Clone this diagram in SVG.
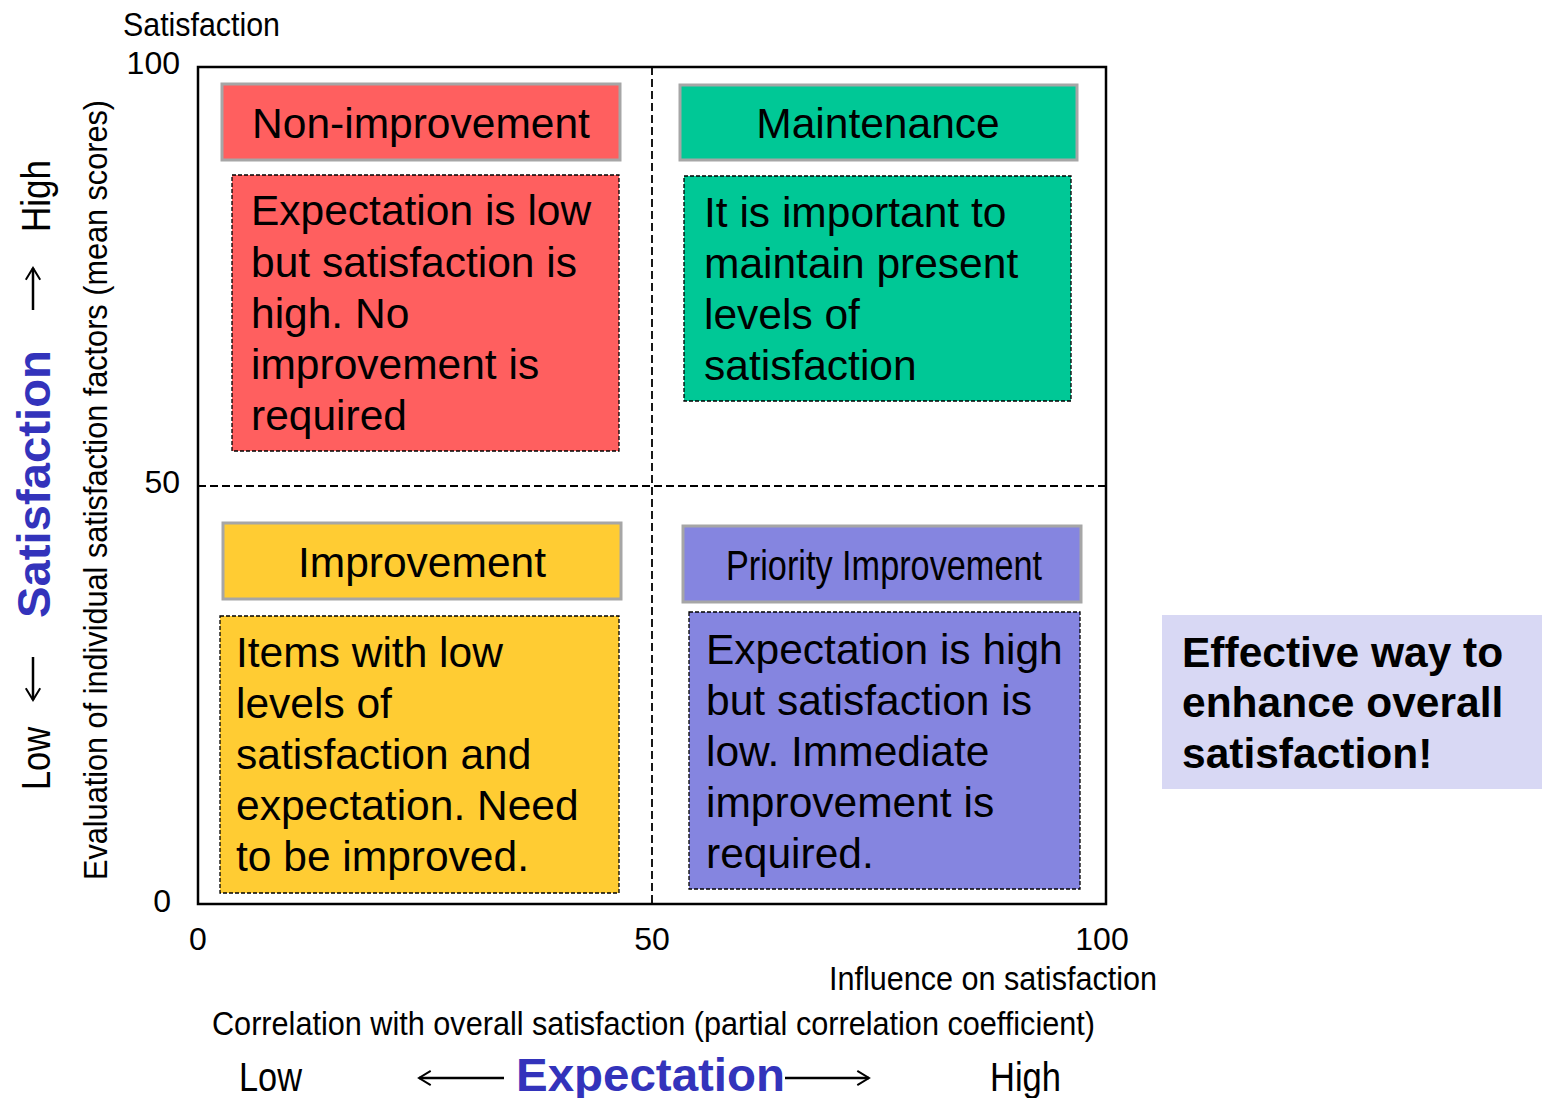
<svg xmlns="http://www.w3.org/2000/svg" width="1542" height="1098" viewBox="0 0 1542 1098">
<defs>
<style>
.t{font-family:"Liberation Sans",Arial,sans-serif;fill:#000}
.box{font-size:42.5px}
.ax{font-size:34px}
.num{font-size:32px}
.lh{font-size:40px}
.blue{font-size:47px;font-weight:bold;fill:#3333BB}
.hdr{stroke:#A6A6A6;stroke-width:3}
.body{stroke:#000;stroke-width:1.3;stroke-dasharray:4 2}
.grid{stroke:#000;stroke-width:1.8;stroke-dasharray:8 4;fill:none}
.arr{stroke:#000;stroke-width:2.5;fill:none;marker-end:url(#ah)}
</style>
<marker id="ah" viewBox="0 0 20 20" refX="18" refY="10" markerWidth="18" markerHeight="18" markerUnits="userSpaceOnUse" orient="auto">
<path d="M5,2 L18,10 L5,18" fill="none" stroke="#000" stroke-width="2.2"/>
</marker>
</defs>
<rect width="1542" height="1098" fill="#fff"/>
<g id="connectors">
<rect x="198" y="67" width="908" height="837" fill="none" stroke="#000" stroke-width="2.5"/>
<line class="grid" x1="652" y1="67" x2="652" y2="904"/>
<line class="grid" x1="198" y1="486" x2="1106" y2="486"/>
<line class="arr" x1="33" y1="310" x2="33" y2="268"/>
<line class="arr" x1="33" y1="657" x2="33" y2="700"/>
<line class="arr" x1="504" y1="1078" x2="419" y2="1078"/>
<line class="arr" x1="785" y1="1078" x2="869" y2="1078"/>
</g>
<g id="non-improvement">
<rect class="hdr" x="222" y="84" width="398" height="76" fill="#FF5F5F"/>
<text class="t box" x="421" y="138" text-anchor="middle">Non-improvement</text>
<rect class="body" x="232" y="175" width="387" height="276" fill="#FF5F5F"/>
<text class="t box" x="251" y="225">Expectation is low</text>
<text class="t box" x="251" y="277">but satisfaction is</text>
<text class="t box" x="251" y="328">high. No</text>
<text class="t box" x="251" y="379">improvement is</text>
<text class="t box" x="251" y="430">required</text>
</g>
<g id="maintenance">
<rect class="hdr" x="680" y="85" width="397" height="75" fill="#00C896"/>
<text class="t box" x="878" y="138" text-anchor="middle">Maintenance</text>
<rect class="body" x="684" y="176" width="387" height="225" fill="#00C896"/>
<text class="t box" x="704" y="227">It is important to</text>
<text class="t box" x="704" y="278">maintain present</text>
<text class="t box" x="704" y="329">levels of</text>
<text class="t box" x="704" y="380">satisfaction</text>
</g>
<g id="improvement">
<rect class="hdr" x="223" y="523" width="398" height="76" fill="#FFCC33"/>
<text class="t box" x="422" y="577" text-anchor="middle">Improvement</text>
<rect class="body" x="220" y="616" width="399" height="277" fill="#FFCC33"/>
<text class="t box" x="236" y="667">Items with low</text>
<text class="t box" x="236" y="718">levels of</text>
<text class="t box" x="236" y="769">satisfaction and</text>
<text class="t box" x="236" y="820">expectation. Need</text>
<text class="t box" x="236" y="871">to be improved.</text>
</g>
<g id="priority-improvement">
<rect class="hdr" x="683" y="526" width="398" height="76" fill="#8585E0"/>
<text class="t box" x="726" y="580" textLength="316" lengthAdjust="spacingAndGlyphs">Priority Improvement</text>
<rect class="body" x="689" y="612" width="391" height="277" fill="#8585E0"/>
<text class="t box" x="706" y="664">Expectation is high</text>
<text class="t box" x="706" y="715">but satisfaction is</text>
<text class="t box" x="706" y="766">low. Immediate</text>
<text class="t box" x="706" y="817">improvement is</text>
<text class="t box" x="706" y="868">required.</text>
</g>
<g id="effective">
<rect x="1162" y="615" width="380" height="174" fill="#D8D8F4"/>
<text class="t box" x="1182" y="667" font-weight="bold">Effective way to</text>
<text class="t box" x="1182" y="717" font-weight="bold">enhance overall</text>
<text class="t box" x="1182" y="768" font-weight="bold">satisfaction!</text>
</g>
<g id="axes-labels">
<text class="t ax" x="123" y="36" textLength="157" lengthAdjust="spacingAndGlyphs">Satisfaction</text>
<text class="t num" x="180" y="74" text-anchor="end">100</text>
<text class="t num" x="180" y="493" text-anchor="end">50</text>
<text class="t num" x="171" y="912" text-anchor="end">0</text>
<text class="t num" x="198" y="950" text-anchor="middle">0</text>
<text class="t num" x="652" y="950" text-anchor="middle">50</text>
<text class="t num" x="1102" y="950" text-anchor="middle">100</text>
<text class="t ax" x="829" y="990" textLength="328" lengthAdjust="spacingAndGlyphs">Influence on satisfaction</text>
<text class="t ax" x="212" y="1035" textLength="883" lengthAdjust="spacingAndGlyphs">Correlation with overall satisfaction (partial correlation coefficient)</text>
<text class="t lh" x="239" y="1091" textLength="63" lengthAdjust="spacingAndGlyphs">Low</text>
<text class="t blue" x="516" y="1091" textLength="269" lengthAdjust="spacingAndGlyphs">Expectation</text>
<text class="t lh" x="990" y="1091" textLength="71" lengthAdjust="spacingAndGlyphs">High</text>
<text class="t ax" transform="translate(107,880) rotate(-90)" textLength="780" lengthAdjust="spacingAndGlyphs">Evaluation of individual satisfaction factors (mean scores)</text>
<text class="t lh" transform="translate(50,790) rotate(-90)" textLength="63" lengthAdjust="spacingAndGlyphs">Low</text>
<text class="t blue" transform="translate(50,618) rotate(-90)" textLength="268" lengthAdjust="spacingAndGlyphs">Satisfaction</text>
<text class="t lh" transform="translate(50,232) rotate(-90)" textLength="72" lengthAdjust="spacingAndGlyphs">High</text>
</g>
</svg>
